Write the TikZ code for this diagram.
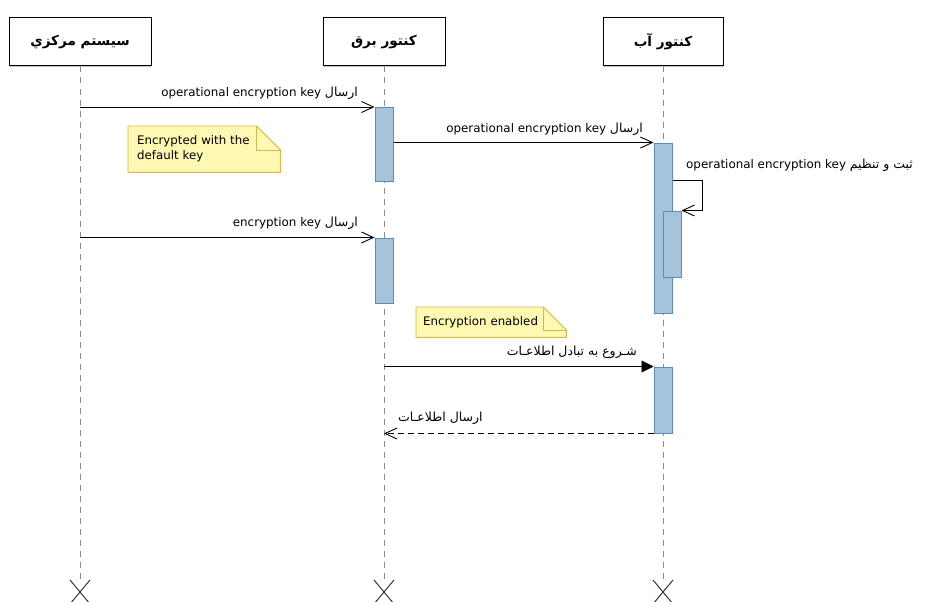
\documentclass[tikz,border=0pt]{standalone}
\usepackage{fontspec}
\setmainfont{DejaVu Sans}
\newfontfamily\fa[Script=Arabic]{DejaVu Sans}
\TeXXeTstate=1
\usetikzlibrary{arrows.meta,backgrounds,shadows}
\definecolor{actfill}{RGB}{166,195,220}
\definecolor{actline}{RGB}{92,140,184}
\definecolor{notefill}{RGB}{255,248,178}
\definecolor{noteline}{RGB}{214,184,72}
\definecolor{lifegray}{RGB}{140,140,140}
% right-to-left runs: headers keep the node font, labels get a slightly larger size
\newcommand{\fatext}[1]{{\fa\beginR #1\endR}}
\newcommand{\falbl}[1]{{\fa\fontsize{12.5}{14}\selectfont\beginR #1\endR}}

\begin{document}
\begin{tikzpicture}[x=1pt,y=-1pt,
  every node/.style={inner sep=0pt},
  lbl/.style={font=\fontsize{11.9}{14}\selectfont},
  head/.style={draw=black, line width=1pt, fill=white, minimum height=48pt,
    drop shadow={shadow xshift=1.2pt, shadow yshift=-1.2pt, fill=black!45},
    font=\fa\bfseries\fontsize{13.6}{15}\selectfont},
  life/.style={draw=lifegray, line width=0.9pt, dash pattern=on 6pt off 5pt},
  xmark/.style={draw=black!80, line width=1pt},
  act/.style={draw=actline, fill=actfill, line width=1pt, minimum width=18pt},
  msg/.style={draw=black, line width=0.9pt, -{Straight Barb[length=12pt,width=11pt]}},
  msgfill/.style={draw=black, line width=0.9pt, -{Triangle[length=12pt,width=12pt]}},
  ret/.style={msg, dash pattern=on 6pt off 4pt},
  note/.style={font=\fontsize{11.8}{15}\selectfont, align=left, anchor=north west},
  noteshape/.style={draw=noteline, fill=notefill, line width=0.9pt},
]
\useasboundingbox (0,0) rectangle (929,602);

% participants
\node[head, minimum width=142pt] (h1) at (80,42)  {\fatext{سیستم مرکزي}};
\node[head, minimum width=122pt] (h2) at (384,42) {\fatext{کنتور برق}};
\node[head, minimum width=120pt] (h3) at (663,42) {\fatext{کنتور آب}};

% lifelines and their end marks
\coordinate (e1) at (80,580);
\coordinate (e2) at (384,580);
\coordinate (e3) at (663,580);
\foreach \h/\e in {h1/e1, h2/e2, h3/e3}{
  \draw[life] (\h.south) -- (\e);
  \draw[xmark] ([shift={(-10pt,0pt)}]\e) -- ([shift={(10pt,-24pt)}]\e);
  \draw[xmark] ([shift={(10pt,0pt)}]\e) -- ([shift={(-10pt,-24pt)}]\e);
}

% activation bars
\node[act, minimum height=74pt]  (act2a) at (384,144.5) {};
\node[act, minimum height=170pt] (act3a) at (663,228) {};
\node[act, minimum height=66pt]  (act3b) at (672,244) {};
\node[act, minimum height=65pt]  (act2b) at (384,270.5) {};
\node[act, minimum height=66pt]  (act3c) at (663,400) {};

% messages
\draw[msg] (act2a.north west -| h1) -- (act2a.north west);
\node[lbl, anchor=east] (l1) at (358,93) {operational encryption key \falbl{ارسال}};

\draw[msg] (act3a.north west -| act2a.east) -- (act3a.north west);
\node[lbl, anchor=east] (l2) at (643,129) {operational encryption key \falbl{ارسال}};

\draw[msg] ([yshift=-38pt]act3a.north east) -- ++(30,0) |- (act3b.north east);
\node[lbl, anchor=west] (l3) at (686,165) {operational encryption key \falbl{ثبت و تنظیم}};

\draw[msg] (act2b.north west -| h1) -- (act2b.north west);
\node[lbl, anchor=east] (l4) at (358,223) {encryption key \falbl{ارسال}};

\draw[msgfill] (act3c.north west -| h2) -- (act3c.north west);
\node[lbl, anchor=east] (l5) at (637,352) {\falbl{شـروع به تبادل اطلاعـات}};

\draw[ret] (act3c.south west) -- (act3c.south west -| h2);
\node[lbl, anchor=west] (l6) at (398,418) {\falbl{ارسال اطلاعـات}};

% notes
\node[note, text width=134pt, inner xsep=9pt, minimum height=46pt] (n1) at (128,126)
  {Encrypted with the\\default key};
\node[note, text width=136pt, inner xsep=7pt, minimum height=30pt] (n2) at (416,307)
  {Encryption enabled};
\begin{scope}[on background layer]
  \foreach \n/\f in {n1/24, n2/23}{
    \draw[noteshape] (\n.north west) -- ([xshift=-\f pt]\n.north east)
      -- ([yshift=-\f pt]\n.north east) -- (\n.south east) -- (\n.south west) -- cycle;
    \draw[draw=noteline, line width=0.9pt] ([xshift=-\f pt]\n.north east)
      -- ([xshift=-\f pt, yshift=-\f pt]\n.north east) -- ([yshift=-\f pt]\n.north east);
  }
\end{scope}
\end{tikzpicture}
\end{document}
